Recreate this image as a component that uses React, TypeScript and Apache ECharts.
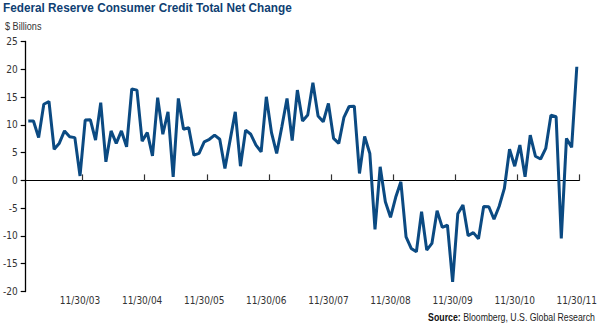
import React, { useEffect, useRef } from "react";
import * as echarts from "echarts";

// Monthly net change, $ billions, Jan 2003 .. Nov 2011
const netChange: number[] = [
  10.7, 10.7, 7.7, 13.7, 14.2, 5.6, 6.7, 8.9, 7.85, 7.7,
  0.8, 10.85, 10.9, 7.25, 14.0, 3.35, 8.9, 6.65, 8.9, 6.05,
  16.45, 16.25, 7.07, 8.6, 4.4, 14.9, 8.3, 12.35, 0.65, 14.75,
  9.2, 9.5, 4.55, 4.85, 6.95, 7.4, 8.15, 7.4, 2.15, 7.25,
  12.35, 2.55, 9.05, 8.3, 6.35, 5.15, 15.05, 8.6, 4.85, 9.65,
  14.75, 7.15, 16.25, 10.7, 11.75, 17.6, 11.6, 10.55, 13.85, 7.55,
  6.65, 11.35, 13.3, 13.35, 1.25, 7.9, 4.85, -8.8, 2.45, -3.85,
  -6.65, -3.05, -0.25, -10.15, -12.25, -12.85, -5.65, -12.55, -11.35, -5.45,
  -8.45, -8.05, -18.25, -6.0, -4.45, -9.95, -9.4, -10.5, -4.7, -4.75,
  -7.0, -4.65, -1.45, 5.6, 2.55, 6.35, 0.65, 8.15, 4.35, 3.85,
  5.75, 11.75, 11.45, -10.45, 7.55, 5.95, 20.45,
];

// Month-end dates for each observation
const startYear = 2003;
const monthEnds: string[] = netChange.map((_, i) => {
  const y = startYear + Math.floor(i / 12);
  const m = (i % 12) + 1;
  const d = new Date(Date.UTC(y, m, 0)).getUTCDate();
  return `${m}/${d}/${String(y % 100).padStart(2, "0")}`;
});

const yTicks = { min: -20, max: 25, interval: 5 };

const TITLE = "Federal Reserve Consumer Credit Total Net Change";
const UNIT = "$ Billions";
const SOURCE_B = "Source:";
const SOURCE_R = " Bloomberg, U.S. Global Research";

const AXIS_FONT = '"DejaVu Sans Condensed", "Liberation Sans", sans-serif';
const TXT_FONT = '"Liberation Sans", Arial, sans-serif';
const LINE_COLOR = "#0b4a82";
const TITLE_COLOR = "#0f3f73";
const TEXT_COLOR = "#333333";

function measure(font: string, text: string): number {
  const ctx = document.createElement("canvas").getContext("2d");
  if (!ctx) return text.length * 6;
  ctx.font = font;
  return ctx.measureText(text).width;
}

export default function App() {
  const ref = useRef<HTMLDivElement>(null);

  useEffect(() => {
    if (!ref.current) return;
    const chart = echarts.init(ref.current, undefined, { renderer: "svg" });

    const titleFont = `bold 13px ${TXT_FONT}`;
    const unitFont = `11px ${TXT_FONT}`;
    const srcBFont = `bold 11px ${TXT_FONT}`;
    const srcRFont = `11px ${TXT_FONT}`;
    const titleScale = 289 / measure(titleFont, TITLE);
    const unitScale = 36.5 / measure(unitFont, UNIT);
    const srcScale = 167 / (measure(srcBFont, SOURCE_B) + measure(srcRFont, SOURCE_R));

    chart.setOption({
      animation: false,
      grid: { left: 23, right: 20, top: 41.5, bottom: 35.5, containLabel: false },
      graphic: [
        {
          type: "text",
          x: 3,
          y: 1.5,
          scaleX: titleScale,
          style: {
            text: TITLE,
            fill: TITLE_COLOR,
            font: titleFont,
            textAlign: "left",
            textVerticalAlign: "top",
          },
        },
        {
          type: "text",
          x: 5,
          y: 20.5,
          scaleX: unitScale,
          style: {
            text: UNIT,
            fill: TEXT_COLOR,
            font: unitFont,
            textAlign: "left",
            textVerticalAlign: "top",
          },
        },
        {
          type: "text",
          x: 595,
          y: 312,
          scaleX: srcScale,
          style: {
            text: `{b|${SOURCE_B}}${SOURCE_R}`,
            fill: "#222",
            font: srcRFont,
            textAlign: "right",
            textVerticalAlign: "top",
            rich: {
              b: { font: srcBFont, fill: "#111" },
            },
          },
        },
      ],
      xAxis: [
        {
          type: "category",
          data: monthEnds,
          boundaryGap: true,
          position: "bottom",
          axisLine: { show: true, onZero: true, lineStyle: { color: "#000", width: 1.2 } },
          axisTick: {
            show: true,
            inside: true,
            length: 6,
            interval: (_i: number, v: string) => v.startsWith("12/"),
            lineStyle: { color: "#333", width: 1.2 },
          },
          axisLabel: { show: false },
          splitLine: { show: false },
        },
        {
          type: "category",
          data: monthEnds,
          boundaryGap: true,
          position: "bottom",
          axisLine: { show: false, onZero: false },
          axisTick: { show: false },
          axisLabel: {
            show: true,
            interval: (_i: number, v: string) => v.startsWith("11/"),
            margin: 4,
            color: TEXT_COLOR,
            fontFamily: AXIS_FONT,
            fontSize: 10,
          },
          splitLine: { show: false },
        },
      ],
      yAxis: {
        type: "value",
        min: yTicks.min,
        max: yTicks.max,
        interval: yTicks.interval,
        axisLine: { show: true, lineStyle: { color: "#000", width: 1.3 } },
        axisTick: { show: true, length: 5, lineStyle: { color: "#000", width: 1.2 } },
        axisLabel: { margin: 8, color: TEXT_COLOR, fontFamily: AXIS_FONT, fontSize: 10 },
        splitLine: { show: false },
      },
      series: [
        {
          type: "line",
          data: netChange,
          xAxisIndex: 0,
          symbol: "none",
          lineStyle: { color: LINE_COLOR, width: 3 },
          z: 3,
        },
      ],
    });
    return () => chart.dispose();
  }, []);

  return (
    <div
      ref={ref}
      style={{ position: "fixed", left: 0, top: 0, width: 600, height: 327, background: "#fff" }}
    />
  );
}
